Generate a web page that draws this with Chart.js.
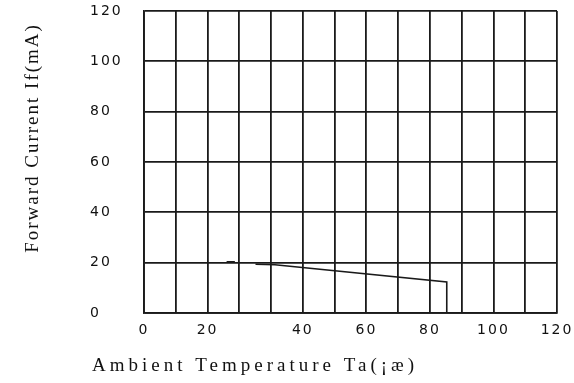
<!DOCTYPE html>
<html lang="en">
<head>
    <meta charset="UTF-8">
    <title>Forward Current vs Ambient Temperature</title>
    <script src="https://cdn.jsdelivr.net/npm/chart.js"></script>
    <style>
        html, body { margin: 0; padding: 0; background: #fff; }
    </style>
</head>
<body>
    <canvas id="Chart" width="574" height="383"></canvas>

    <script>
        // derating curve (x in grid units, 10 per column)
        const tempData    = [26.0, 28.6, 31.0, 35.1, 41.2, 95.3, 95.3];
        const currentData = [20.3, 20.3, null, 19.4, 19.2, 12.3, 0];

        // x labels do not sit on every other grid line in the original
        const xLabelAt  = [0, 20, 50, 70, 90, 110, 130];
        const xLabels   = ['0', '20', '40', '60', '80', '100', '120'];
        const yTicks    = [0, 20, 40, 60, 80, 100, 120];

        const xTitle = 'Ambient Temperature Ta(¡æ)';
        const yTitle = 'Forward Current If(mA)';

        const points = tempData.map((t, i) => ({ x: t, y: currentData[i] }));

        // axis titles drawn by hand so they can sit off-centre like the scan
        const axisTitles = {
            id: 'axisTitles',
            beforeDraw(chart) {
                chart.ctx.letterSpacing = '2px';
            },
            afterDraw(chart) {
                const ctx = chart.ctx;
                const area = chart.chartArea;
                ctx.save();
                ctx.fillStyle = '#111';
                ctx.font = '19px "Liberation Serif"';
                ctx.letterSpacing = '4px';
                ctx.textBaseline = 'middle';
                ctx.textAlign = 'left';
                ctx.fillText(xTitle, area.left - 52, area.bottom + 53);

                ctx.translate(33, (area.top + area.bottom) / 2 - 24);
                ctx.rotate(-Math.PI / 2);
                ctx.textAlign = 'center';
                ctx.letterSpacing = '2px';
                ctx.fillText(yTitle, 0, 0);
                ctx.restore();
                ctx.letterSpacing = '0px';
            }
        };

        const ctx = document.getElementById('Chart').getContext('2d');
        const chart = new Chart(ctx, {
            type: 'line',
            data: {
                datasets: [{
                    label: 'If',
                    data: points,
                    borderColor: '#1a1a1a',
                    borderWidth: 1.6,
                    pointRadius: 0,
                    fill: false,
                    spanGaps: false,
                    tension: 0
                }]
            },
            options: {
                responsive: false,
                animation: false,
                layout: {
                    padding: { left: 90, right: 17, top: 11, bottom: 0 }
                },
                scales: {
                    x: {
                        type: 'linear',
                        min: 0,
                        max: 130,
                        border: { display: true, color: '#1a1a1a', width: 1.8 },
                        grid: { color: '#1a1a1a', lineWidth: 1.8, drawTicks: false },
                        ticks: {
                            stepSize: 10,
                            autoSkip: false,
                            maxRotation: 0,
                            padding: 9,
                            color: '#111',
                            font: { family: 'DejaVu Sans', size: 14 },
                            callback: function (value) {
                                const k = xLabelAt.indexOf(value);
                                return k >= 0 ? xLabels[k] : '';
                            }
                        },
                        afterFit: function (scale) {
                            scale.height = 70;
                            scale.paddingLeft = 0;
                            scale.paddingRight = 0;
                        }
                    },
                    y: {
                        type: 'linear',
                        min: 0,
                        max: 120,
                        border: { display: true, color: '#1a1a1a', width: 1.8 },
                        grid: { color: '#1a1a1a', lineWidth: 1.8, drawTicks: false },
                        afterBuildTicks: function (scale) {
                            scale.ticks = yTicks.map(v => ({ value: v }));
                        },
                        ticks: {
                            crossAlign: 'far',
                            padding: 8,
                            color: '#111',
                            font: { family: 'DejaVu Sans', size: 14 }
                        },
                        afterFit: function (scale) {
                            scale.width = 54;
                            scale.paddingTop = 0;
                            scale.paddingBottom = 0;
                        }
                    }
                },
                plugins: {
                    legend: { display: false },
                    tooltip: { enabled: false }
                }
            },
            plugins: [axisTitles]
        });
    </script>
</body>
</html>
